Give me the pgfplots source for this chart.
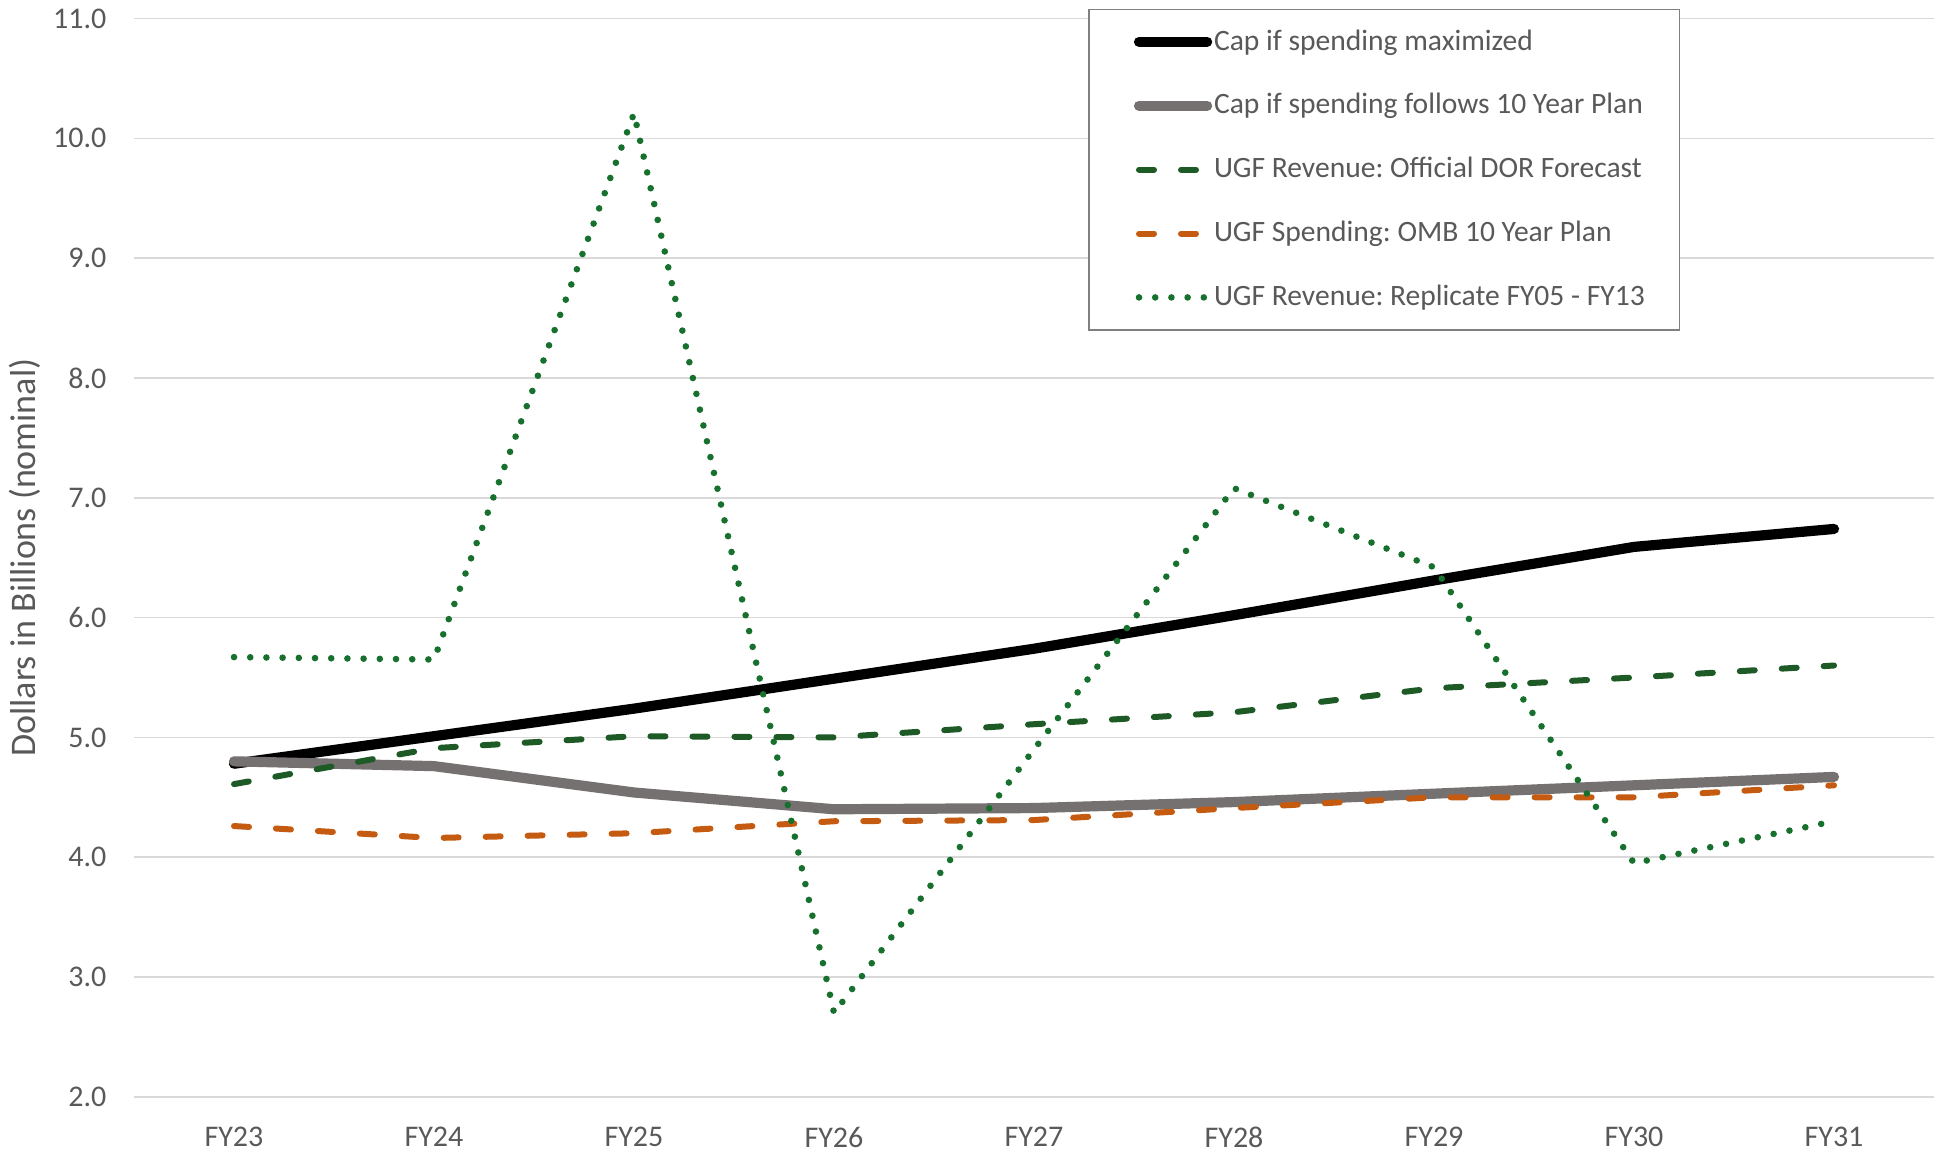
\documentclass[border=0pt]{standalone}
\usepackage{fontspec}
\setmainfont{Carlito}
\usepackage{pgfplots}
\pgfplotsset{compat=1.18}
\frenchspacing
\definecolor{txt}{HTML}{595959}
\definecolor{gridc}{HTML}{D9D9D9}
\definecolor{capgray}{HTML}{767171}
\definecolor{dorgreen}{HTML}{1E5A26}
\definecolor{ombor}{HTML}{C55A11}
\definecolor{repgreen}{HTML}{18702E}
\begin{document}
\begin{tikzpicture}
\begin{axis}[
  scale only axis, width=600pt, height=359.4pt,
  xmin=-0.5, xmax=8.5, ymin=2, ymax=11,
  xtick={0,1,2,3,4,5,6,7,8},
  xticklabels={FY23,FY24,FY25,FY26,FY27,FY28,FY29,FY30,FY31},
  ytick={2,3,4,5,6,7,8,9,10,11},
  axis line style={draw=none}, tick style={draw=none},
  ymajorgrids, grid style={gridc, line width=0.5pt},
  ticklabel style={font=\fontsize{10}{12}\selectfont, text=txt},
  xticklabel style={yshift=-6.7pt},
  yticklabel style={xshift=-5.7pt,
    /pgf/number format/fixed, /pgf/number format/fixed zerofill,
    /pgf/number format/precision=1, /pgf/number format/assume math mode=true},
  every axis y label/.style={at={([xshift=-36.3pt]axis description cs:0,0.5)}, rotate=90, anchor=center,
    font=\fontsize{12}{14}\selectfont, text=txt},
  ylabel={Dollars in Billions (nominal)},
  legend cell align=left,
  legend image code/.code={\draw[#1] (0pt,0pt) -- (22.7pt,0pt); \path (-3.4pt,0pt) (24.4pt,0pt);},
  legend style={at={(0.53,1.0092)}, anchor=north west, draw=gray, line width=0.6pt, fill=white,
    inner xsep=11.6pt, inner ysep=6.5pt, row sep=12.8pt, column sep=-1.1pt,
    font=\fontsize{9.85}{12}\selectfont, text=txt,
    nodes={inner sep=0pt, text height=7pt, text depth=1.5pt}},
]
\addplot[black, line width=3.4pt, line cap=round, line join=round] coordinates {
 (0,4.78) (1,5.01) (2,5.24) (3,5.49) (4,5.74) (5,6.02) (6,6.31) (7,6.59) (8,6.74)};
\addlegendentry{Cap if spending maximized}
\addplot[capgray, line width=3.4pt, line cap=round, line join=round] coordinates {
 (0,4.80) (1,4.76) (2,4.54) (3,4.40) (4,4.41) (5,4.46) (6,4.53) (7,4.60) (8,4.67)};
\addlegendentry{Cap if spending follows 10 Year Plan}
\addplot[dorgreen, line width=2pt, line cap=round, dash pattern=on 5pt off 9pt] coordinates {
 (0,4.61) (1,4.91) (2,5.01) (3,5.00) (4,5.11) (5,5.21) (6,5.41) (7,5.50) (8,5.60)};
\addlegendentry{UGF Revenue: Official DOR Forecast}
\addplot[ombor, line width=2pt, line cap=round, dash pattern=on 5pt off 9pt] coordinates {
 (0,4.26) (1,4.16) (2,4.20) (3,4.30) (4,4.31) (5,4.41) (6,4.50) (7,4.50) (8,4.60)};
\addlegendentry{UGF Spending: OMB 10 Year Plan}
\addplot[repgreen, line width=2.2pt, line cap=round, dash pattern=on 0pt off 5.4pt] coordinates {
 (0,5.67) (1,5.65) (2,10.21) (3,2.70) (4,4.90) (5,7.08) (6,6.42) (7,3.95) (8,4.30)};
\addlegendentry{UGF Revenue: Replicate FY05 - FY13}
\coordinate (sw) at (rel axis cs:0,0);
\coordinate (ne) at (rel axis cs:1,1);
\end{axis}
\pgfresetboundingbox
\path ([shift={(-44.67pt,-19.4pt)}]sw) rectangle ([shift={(2.33pt,6.2pt)}]ne);
\end{tikzpicture}
\end{document}
